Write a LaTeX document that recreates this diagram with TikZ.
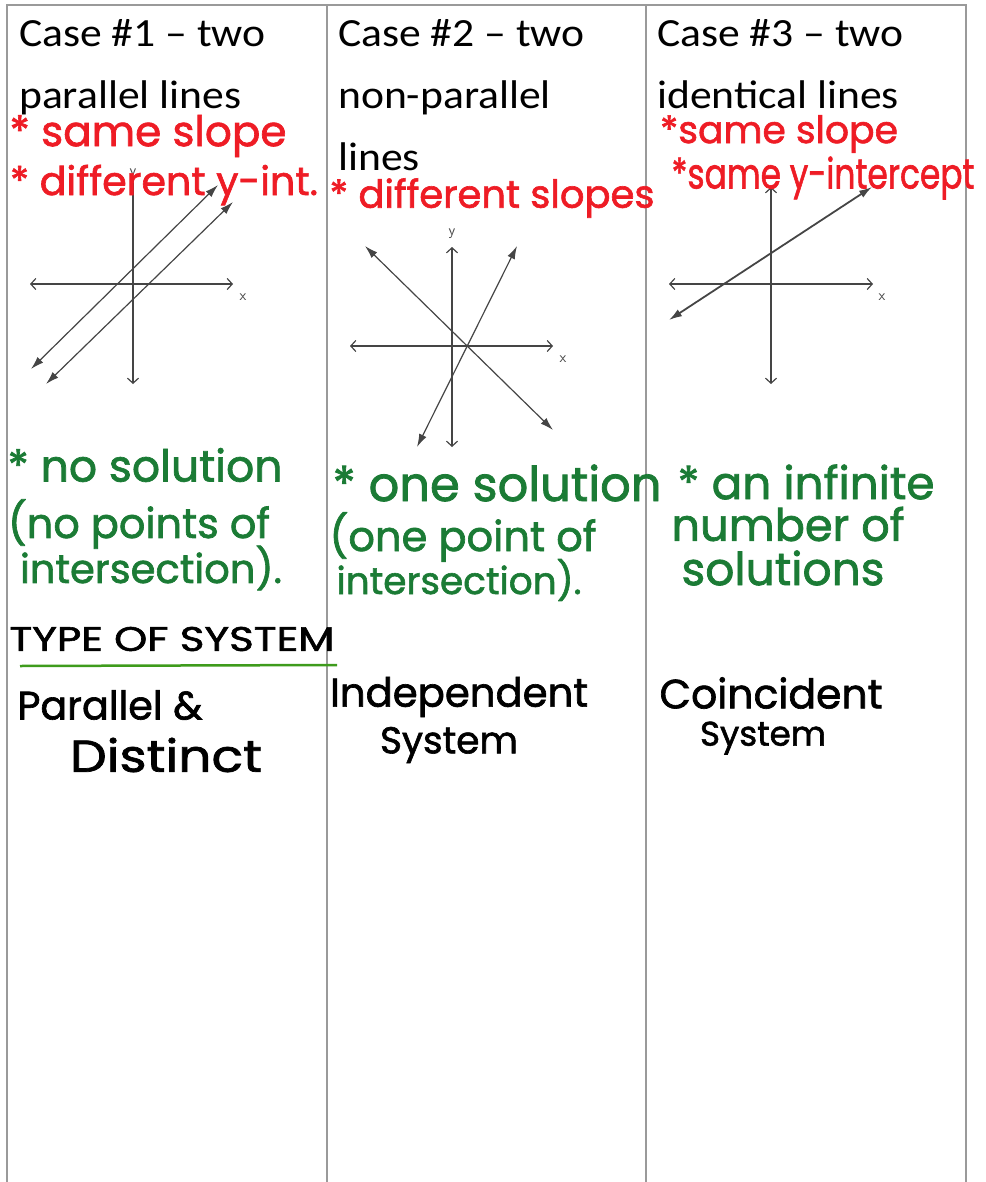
\documentclass[tikz,border=0pt]{standalone}
\usepackage{fontspec}
\setmainfont{Carlito}
\newfontfamily\handfont[FakeBold=1.6]{Poppins}
\usetikzlibrary{arrows.meta}
\definecolor{inkred}{HTML}{EE1C25}
\definecolor{inkgreen}{HTML}{1B7B35}
\definecolor{inkline}{HTML}{3E9B1C}
\definecolor{rulegray}{HTML}{9A9A9A}
\definecolor{plotgray}{HTML}{454545}
\newcommand\fitw[2]{\resizebox{#1pt}{!}{#2}}
\newcommand\fitwh[3]{\resizebox{#1pt}{#2pt}{#3}}
\newcommand\hx[1]{\scalebox{1.09}[1]{#1}}
\begin{document}
\begin{tikzpicture}[x=1pt,y=-1pt,
  hdr/.style={anchor=base west, inner sep=0pt, font=\fontsize{40}{48}\selectfont},
  hw/.style={inner sep=0pt, font=\handfont\fontsize{30}{36}\selectfont},
  redhw/.style={hw, text=inkred},
  greenhw/.style={hw, text=inkgreen},
  blackhw/.style={hw, text=black},
  axis/.style={draw=plotgray, line width=1.2pt, {Straight Barb[length=5pt,width=11pt]}-{Straight Barb[length=5pt,width=11pt]}},
  axisdown/.style={draw=plotgray, line width=1.2pt, -{Straight Barb[length=5pt,width=11pt]}},
  sysline/.style={draw=plotgray, line width=1.2pt, {Latex[length=13pt,width=8pt]}-{Latex[length=13pt,width=8pt]}},
  axlabel/.style={inner sep=0pt, text=plotgray, font=\sffamily\fontsize{15}{15}\selectfont}
]
\useasboundingbox (0,0) rectangle (985,1182);
% table
\draw[rulegray, line width=1.3pt] (7,1182) -- (7,5) -- (966,5) -- (966,1182);
\draw[rulegray, line width=1.3pt] (327,5) -- (327,1182);
\draw[rulegray, line width=1.3pt] (646,5) -- (646,1182);

% headers
\node[hdr] (h1a) at (19,47) {\hx{Case \#1 – two}};
\node[hdr] (h1b) at (19,109) {\hx{parallel lines}};
\node[hdr] (h2a) at (338,47) {\hx{Case \#2 – two}};
\node[hdr] (h2b) at (338,109) {\hx{non-parallel}};
\node[hdr] (h2c) at (338,171) {\hx{lines}};
\node[hdr] (h3a) at (657,47) {\hx{Case \#3 – two}};
\node[hdr] (h3b) at (657,109) {\hx{identical lines}};

% graph 1
\coordinate (a1l) at (30,284); \coordinate (a1r) at (233,284);
\coordinate (a1t) at (133,178); \coordinate (a1b) at (133,384);
\draw[axis] (a1l) -- (a1r);
\draw[axisdown] (a1t) -- (a1b);
\node[axlabel] (y1) at (133,174) {y};
\node[axlabel] (x1) at (243,297) {x};
\coordinate (p1a) at (31,369); \coordinate (p1b) at (218,185);
\coordinate (p2a) at (46,384); \coordinate (p2b) at (233,202);
\draw[sysline] (p1a) -- (p1b);
\draw[sysline] (p2a) -- (p2b);

% graph 2
\coordinate (a2l) at (350,346); \coordinate (a2r) at (553,346);
\coordinate (a2t) at (452,247); \coordinate (a2b) at (452,447);
\draw[axis] (a2l) -- (a2r);
\draw[axis] (a2t) -- (a2b);
\node[axlabel] (y2) at (452,234) {y};
\node[axlabel] (x2) at (563,359) {x};
\coordinate (q1a) at (365,246); \coordinate (q1b) at (553,430);
\coordinate (q2a) at (517,246); \coordinate (q2b) at (417,447);
\draw[sysline] (q1a) -- (q1b);
\draw[sysline] (q2a) -- (q2b);

% graph 3
\coordinate (a3l) at (669,284); \coordinate (a3r) at (873,284);
\coordinate (a3t) at (771,187); \coordinate (a3b) at (771,384);
\draw[axis] (a3l) -- (a3r);
\draw[axis] (a3t) -- (a3b);
\node[axlabel] (x3) at (882,297) {x};
\coordinate (s1a) at (669,320); \coordinate (s1b) at (872,187);
\draw[sysline, line width=1.8pt] (s1a) -- (s1b);

% red notes
\node[redhw] (r1) at (148,136) {\fitw{277}{* same slope}};
\node[redhw] (r2) at (164,185) {\fitw{308}{* different y-int.}};
\node[redhw] (r3) at (492,198) {\fitw{325}{* different slopes}};
\node[redhw] (r4) at (779,134) {\fitw{238}{*same slope}};
\node[redhw] (r5) at (823,178) {\fitwh{303}{32}{*same y-intercept}};

% green notes
\node[greenhw] (g1) at (145,465) {\fitw{275}{* no solution}};
\node[greenhw] (g2) at (139,524) {\fitw{262}{(no points of}};
\node[greenhw] (g3) at (151,568) {\fitw{262}{intersection).}};
\node[greenhw] (g4) at (497,483) {\fitw{329}{* one solution}};
\node[greenhw] (g5) at (463,537) {\fitw{267}{(one point of}};
\node[greenhw] (g6) at (459,580) {\fitw{245}{intersection).}};
\node[greenhw] (g7) at (806,482) {\fitw{257}{* an infinite}};
\node[greenhw] (g8) at (788,524) {\fitw{233}{number of}};
\node[greenhw] (g9) at (783,568) {\fitw{203}{solutions}};

% type of system
\node[blackhw] (t0) at (172,639) {\fitwh{325}{24}{TYPE OF SYSTEM}};
\coordinate (u1) at (20,666); \coordinate (u2) at (337,665);
\draw[inkline, line width=2.5pt] (u1) -- (u2);
\node[blackhw] (b2) at (110,705) {\fitw{185}{Parallel \&}};
\node[blackhw] (b3) at (166,755) {\fitwh{192}{34}{Distinct}};
\node[blackhw] (b4) at (459,697) {\fitw{258}{Independent}};
\node[blackhw] (b5) at (449,745) {\fitw{138}{System}};
\node[blackhw] (b6) at (771,693) {\fitw{223}{Coincident}};
\node[blackhw] (b7) at (763,738) {\fitw{126}{System}};
\end{tikzpicture}
\end{document}
